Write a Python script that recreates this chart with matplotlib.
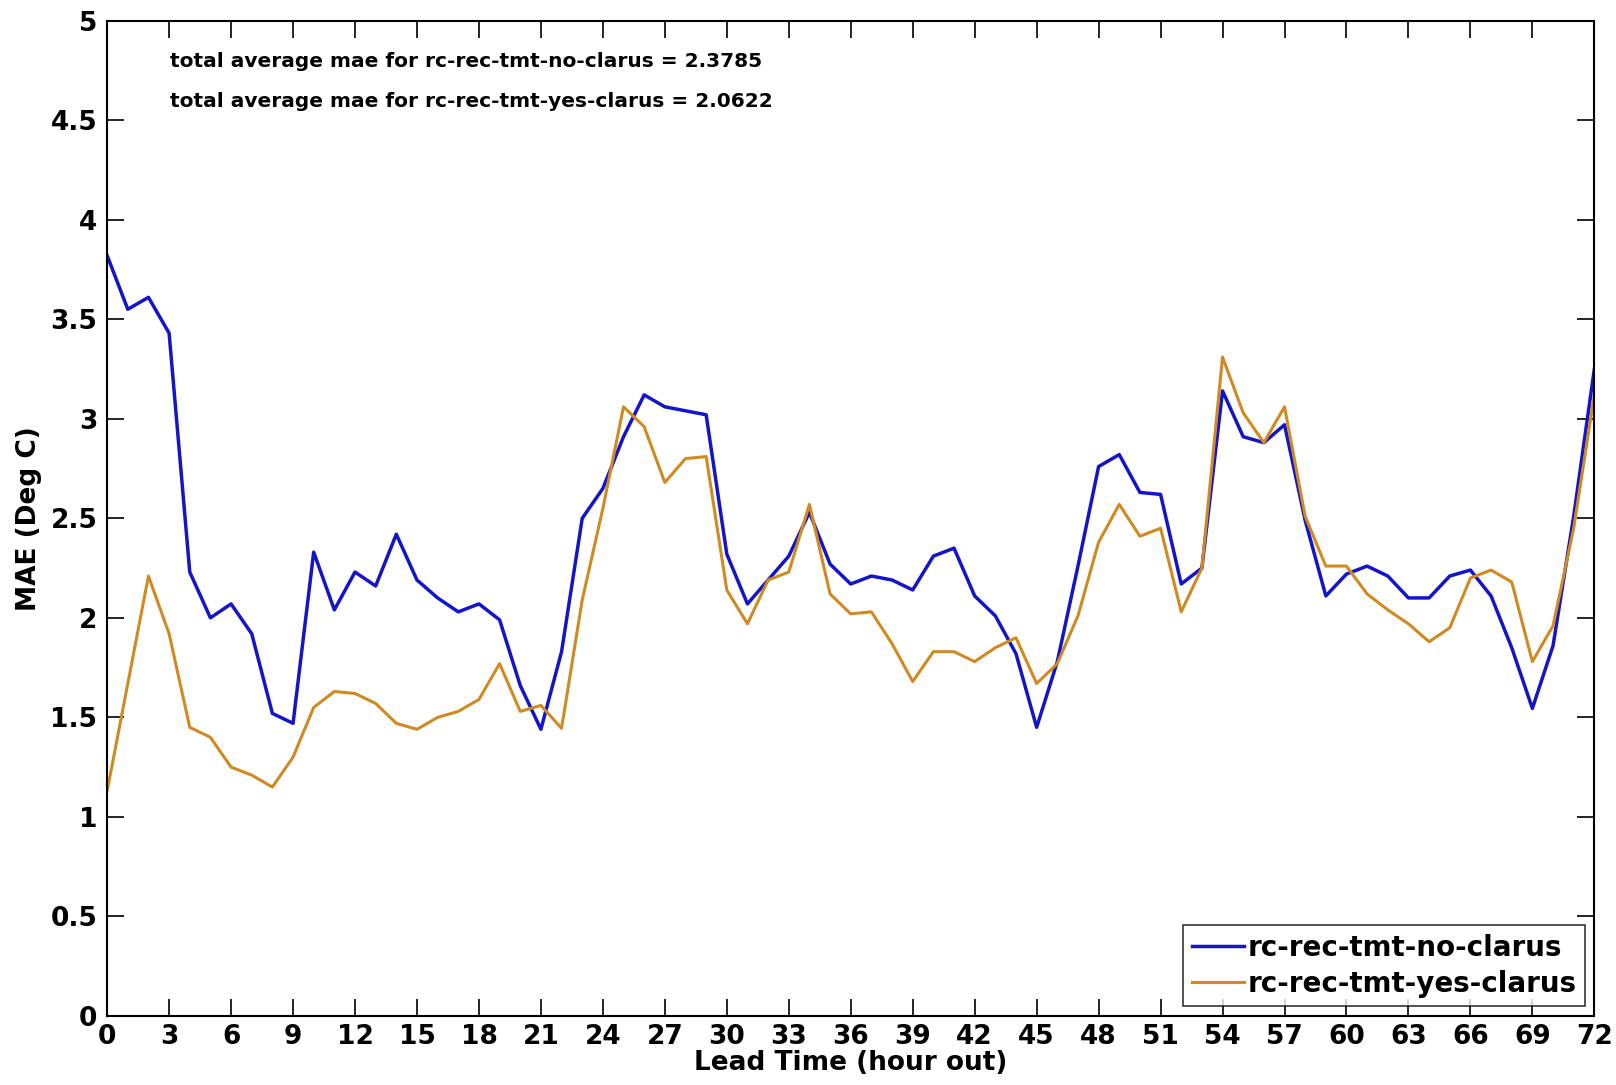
import matplotlib
matplotlib.use("Agg")
import matplotlib.pyplot as plt
import numpy as np

lead_hours = list(range(0, 73))

mae_no_clarus = [
    3.82, 3.55, 3.61, 3.43, 2.23, 2.00, 2.07, 1.92, 1.52, 1.47,
    2.33, 2.04, 2.23, 2.16, 2.42, 2.19, 2.10, 2.03, 2.07, 1.99,
    1.66, 1.44, 1.83, 2.50, 2.65, 2.91, 3.12, 3.06, 3.04, 3.02,
    2.32, 2.07, 2.19, 2.31, 2.53, 2.27, 2.17, 2.21, 2.19, 2.14,
    2.31, 2.35, 2.11, 2.01, 1.82, 1.45, 1.78, 2.26, 2.76, 2.82,
    2.63, 2.62, 2.17, 2.25, 3.14, 2.91, 2.88, 2.97, 2.49, 2.11,
    2.22, 2.26, 2.21, 2.10, 2.10, 2.21, 2.24, 2.11, 1.85, 1.545,
    1.86, 2.51, 3.25,
]

mae_yes_clarus = [
    1.13, 1.67, 2.21, 1.92, 1.45, 1.40, 1.25, 1.21, 1.15, 1.30,
    1.55, 1.63, 1.62, 1.57, 1.47, 1.44, 1.50, 1.53, 1.59, 1.77,
    1.53, 1.56, 1.445, 2.09, 2.55, 3.06, 2.96, 2.68, 2.80, 2.81,
    2.14, 1.97, 2.19, 2.23, 2.57, 2.12, 2.02, 2.03, 1.87, 1.68,
    1.83, 1.83, 1.78, 1.85, 1.90, 1.67, 1.77, 2.01, 2.38, 2.57,
    2.41, 2.45, 2.03, 2.25, 3.31, 3.03, 2.88, 3.06, 2.51, 2.26,
    2.26, 2.12, 2.04, 1.97, 1.88, 1.95, 2.20, 2.24, 2.18, 1.78,
    1.96, 2.45, 3.12,
]

series_names = ["rc-rec-tmt-no-clarus", "rc-rec-tmt-yes-clarus"]
total_avg = ["2.3785", "2.0622"]
x_ticks = list(range(0, 73, 3))
y_ticks = [0, 0.5, 1, 1.5, 2, 2.5, 3, 3.5, 4, 4.5, 5]
y_tick_labels = ["0", "0.5", "1", "1.5", "2", "2.5", "3", "3.5", "4", "4.5", "5"]

plt.rcParams['font.family'] = ['DejaVu Sans']
plt.rcParams['font.weight'] = 'bold'

fig = plt.figure(figsize=(16.16, 10.85), dpi=100)
ax = fig.add_axes([0.0663, 0.0636, 0.9203, 0.9174])

ax.plot(lead_hours, mae_no_clarus, color='#1414C8', lw=2.5, label=series_names[0])
ax.plot(lead_hours, mae_yes_clarus, color='#D08A22', lw=2.2, label=series_names[1])

ax.set_xlim(0, 72)
ax.set_ylim(0, 5)
ax.set_xticks(x_ticks)
ax.set_xticklabels([str(t) for t in x_ticks], fontsize=19, fontweight='bold')
ax.set_yticks(y_ticks)
ax.set_yticklabels(y_tick_labels, fontsize=19, fontweight='bold')
ax.tick_params(direction='in', length=12, width=1.2, top=True, right=True)
ax.tick_params(axis='y', pad=7)
ax.tick_params(axis='x', pad=6)
for s in ax.spines.values():
    s.set_linewidth(1.5)

ax.set_xlabel("Lead Time (hour out)", fontsize=19, fontweight='bold', labelpad=0)
ax.set_ylabel("MAE (Deg C)", fontsize=19, fontweight='bold', labelpad=6)

ax.text(0.042, 0.959, f"total average mae for {series_names[0]} = {total_avg[0]}",
        transform=ax.transAxes, fontsize=14.5, fontweight='bold', va='center', ha='left')
ax.text(0.042, 0.919, f"total average mae for {series_names[1]} = {total_avg[1]}",
        transform=ax.transAxes, fontsize=14.5, fontweight='bold', va='center', ha='left')

leg = ax.legend(loc='lower right', fontsize=20, frameon=True, fancybox=False,
                edgecolor='black', handlelength=1.9, handletextpad=0.1,
                borderpad=0.3, labelspacing=0.3, borderaxespad=0.35)
leg.get_frame().set_linewidth(1.2)
for t in leg.get_texts():
    t.set_fontweight('bold')

fig.savefig("out.png", dpi=100)
